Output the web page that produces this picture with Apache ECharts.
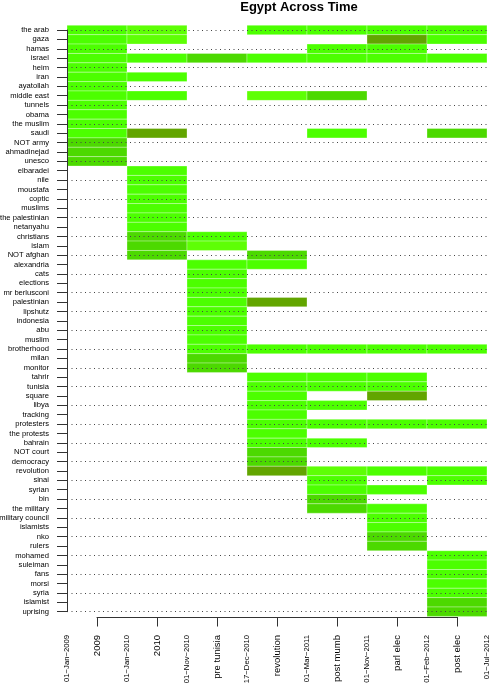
<!DOCTYPE html>
<html>
<head>
<meta charset="utf-8">
<script src="https://cdn.jsdelivr.net/npm/echarts@6/dist/echarts.min.js"></script>
<style>
  html, body { margin: 0; padding: 0; background: #fff; }
  #main { width: 490px; height: 683px; }
</style>
</head>
<body>
<div id="main"></div>
<script>
// periods shown on the x axis, and the dates that bound them
const periods = ['2009', '2010', 'pre tunisia', 'revolution', 'post mumb', 'parl elec', 'post elec'];
const dates = ['01\u2212Jan\u22122009', '01\u2212Jan\u22122010', '01\u2212Nov\u22122010', '17\u2212Dec\u22122010',
  '01\u2212Mar\u22122011', '01\u2212Nov\u22122011', '01\u2212Feb\u22122012', '01\u2212Jul\u22122012'];

const terms = ['the arab', 'gaza', 'hamas', 'israel', 'heim', 'iran', 'ayatollah', 'middle east', 'tunnels',
  'obama', 'the muslim', 'saudi', 'NOT army', 'ahmadinejad', 'unesco', 'elbaradei', 'nile', 'moustafa',
  'coptic', 'muslims', 'the palestinian', 'netanyahu', 'christians', 'islam', 'NOT afghan', 'alexandria',
  'cats', 'elections', 'mr berlusconi', 'palestinian', 'lipshutz', 'indonesia', 'abu', 'muslim',
  'brotherhood', 'milan', 'monitor', 'tahrir', 'tunisia', 'square', 'libya', 'tracking', 'protesters',
  'the protests', 'bahrain', 'NOT court', 'democracy', 'revolution', 'sinai', 'syrian', 'bin',
  'the military', 'military council', 'islamists', 'nko', 'rulers', 'mohamed', 'suleiman', 'fans',
  'morsi', 'syria', 'islamist', 'uprising'];

// shade level of each term in each period (0 = absent)
const shade = [
  [2,1,0,2,2,2,2], // the arab
  [2,1,0,0,0,4,2], // gaza
  [2,0,0,0,2,2,0], // hamas
  [2,2,3,2,2,2,2], // israel
  [2,0,0,0,0,0,0], // heim
  [2,2,0,0,0,0,0], // iran
  [2,0,0,0,0,0,0], // ayatollah
  [2,2,0,1,3,0,0], // middle east
  [2,0,0,0,0,0,0], // tunnels
  [2,0,0,0,0,0,0], // obama
  [2,0,0,0,0,0,0], // the muslim
  [2,4,0,0,2,0,3], // saudi
  [3,0,0,0,0,0,0], // NOT army
  [3,0,0,0,0,0,0], // ahmadinejad
  [3,0,0,0,0,0,0], // unesco
  [0,2,0,0,0,0,0], // elbaradei
  [0,2,0,0,0,0,0], // nile
  [0,2,0,0,0,0,0], // moustafa
  [0,2,0,0,0,0,0], // coptic
  [0,2,0,0,0,0,0], // muslims
  [0,2,0,0,0,0,0], // the palestinian
  [0,2,0,0,0,0,0], // netanyahu
  [0,3,2,0,0,0,0], // christians
  [0,3,1,0,0,0,0], // islam
  [0,3,0,3,0,0,0], // NOT afghan
  [0,0,2,2,0,0,0], // alexandria
  [0,0,2,0,0,0,0], // cats
  [0,0,2,0,0,0,0], // elections
  [0,0,2,0,0,0,0], // mr berlusconi
  [0,0,2,4,0,0,0], // palestinian
  [0,0,2,0,0,0,0], // lipshutz
  [0,0,2,0,0,0,0], // indonesia
  [0,0,2,0,0,0,0], // abu
  [0,0,2,0,0,0,0], // muslim
  [0,0,2,2,2,2,2], // brotherhood
  [0,0,3,0,0,0,0], // milan
  [0,0,3,0,0,0,0], // monitor
  [0,0,0,2,2,2,0], // tahrir
  [0,0,0,2,2,2,0], // tunisia
  [0,0,0,2,0,4,0], // square
  [0,0,0,2,2,0,0], // libya
  [0,0,0,2,0,0,0], // tracking
  [0,0,0,2,2,2,2], // protesters
  [0,0,0,2,0,0,0], // the protests
  [0,0,0,2,2,0,0], // bahrain
  [0,0,0,3,0,0,0], // NOT court
  [0,0,0,3,0,0,0], // democracy
  [0,0,0,4,1,2,2], // revolution
  [0,0,0,0,2,0,2], // sinai
  [0,0,0,0,2,2,0], // syrian
  [0,0,0,0,3,0,0], // bin
  [0,0,0,0,3,2,0], // the military
  [0,0,0,0,0,2,0], // military council
  [0,0,0,0,0,2,0], // islamists
  [0,0,0,0,0,3,0], // nko
  [0,0,0,0,0,3,0], // rulers
  [0,0,0,0,0,0,2], // mohamed
  [0,0,0,0,0,0,2], // suleiman
  [0,0,0,0,0,0,2], // fans
  [0,0,0,0,0,0,2], // morsi
  [0,0,0,0,0,0,2], // syria
  [0,0,0,0,0,0,3], // islamist
  [0,0,0,0,0,0,3]  // uprising
];

const shadeColors = [null, '#5eff05', '#4cff00', '#4cd900', '#62a500'];
const font = '"Liberation Sans", Arial, sans-serif';

const cells = [];
shade.forEach((row, i) => row.forEach((lvl, j) => {
  if (lvl > 0) cells.push([j, j + 1, i, lvl]);
}));

function renderCell(params, api) {
  const a = api.coord([api.value(0), api.value(2)]);
  const b = api.coord([api.value(1), api.value(2)]);
  const h = api.size([0, 1])[1];
  return {
    type: 'rect',
    shape: { x: a[0], y: a[1] - h / 2, width: b[0] - a[0], height: h },
    style: { fill: shadeColors[api.value(3)], stroke: 'rgba(255,255,255,0.3)', lineWidth: 1 }
  };
}

const chart = echarts.init(document.getElementById('main'), null, { renderer: 'canvas' });
chart.setOption({
  animation: false,
  title: {
    text: 'Egypt Across Time', left: 294, top: -4, textAlign: 'center',
    textStyle: { fontFamily: font, fontSize: 13, fontWeight: 'bold', color: '#000' }
  },
  grid: [
    // cells
    { left: 67, right: 3, top: 25.3, bottom: 66.6, outerBoundsMode: 'none', containLabel: false },
    // term axis + dotted guides
    { left: 67, right: 3, top: 30, bottom: 71.3, outerBoundsMode: 'none', containLabel: false },
    // period axis
    { left: 97, right: 33, top: 30, bottom: 66, outerBoundsMode: 'none', containLabel: false }
  ],
  xAxis: [
    {
      gridIndex: 0, type: 'value', min: 0, max: 7, interval: 1,
      axisLine: { show: false }, axisTick: { show: false }, splitLine: { show: false },
      axisLabel: {
        rotate: 90, margin: 18.5, fontSize: 7.7, fontFamily: font, color: '#000',
        formatter: v => dates[v]
      }
    },
    { gridIndex: 1, type: 'value', min: 0, max: 1, show: false },
    {
      gridIndex: 2, type: 'category', data: periods, boundaryGap: false,
      axisLine: { onZero: false, lineStyle: { color: '#333', width: 1 } },
      axisTick: { length: 9.5, lineStyle: { color: '#333' } },
      axisLabel: { rotate: 90, margin: 18, fontSize: 9.5, fontFamily: font, color: '#000', interval: 0 },
      splitLine: { show: false }
    }
  ],
  yAxis: [
    { gridIndex: 0, type: 'category', data: terms, inverse: true, show: false },
    {
      gridIndex: 1, type: 'category', data: terms, inverse: true, boundaryGap: false, z: 5,
      axisLine: { onZero: false, lineStyle: { color: '#333', width: 1 } },
      axisTick: { length: 10, interval: 0, lineStyle: { color: '#333' } },
      axisLabel: { margin: 18, fontSize: 7.6, fontFamily: font, color: '#000', interval: 0 },
      splitLine: { show: true, interval: 1, lineStyle: { color: '#444', width: 1, type: [1, 3.5] } }
    },
    { gridIndex: 2, type: 'value', min: 0, max: 1, show: false }
  ],
  series: [{
    type: 'custom', xAxisIndex: 0, yAxisIndex: 0,
    renderItem: renderCell,
    encode: { x: [0, 1], y: 2 },
    data: cells
  }]
});
window.addEventListener('resize', function() { chart.resize(); });
</script>
</body>
</html>
